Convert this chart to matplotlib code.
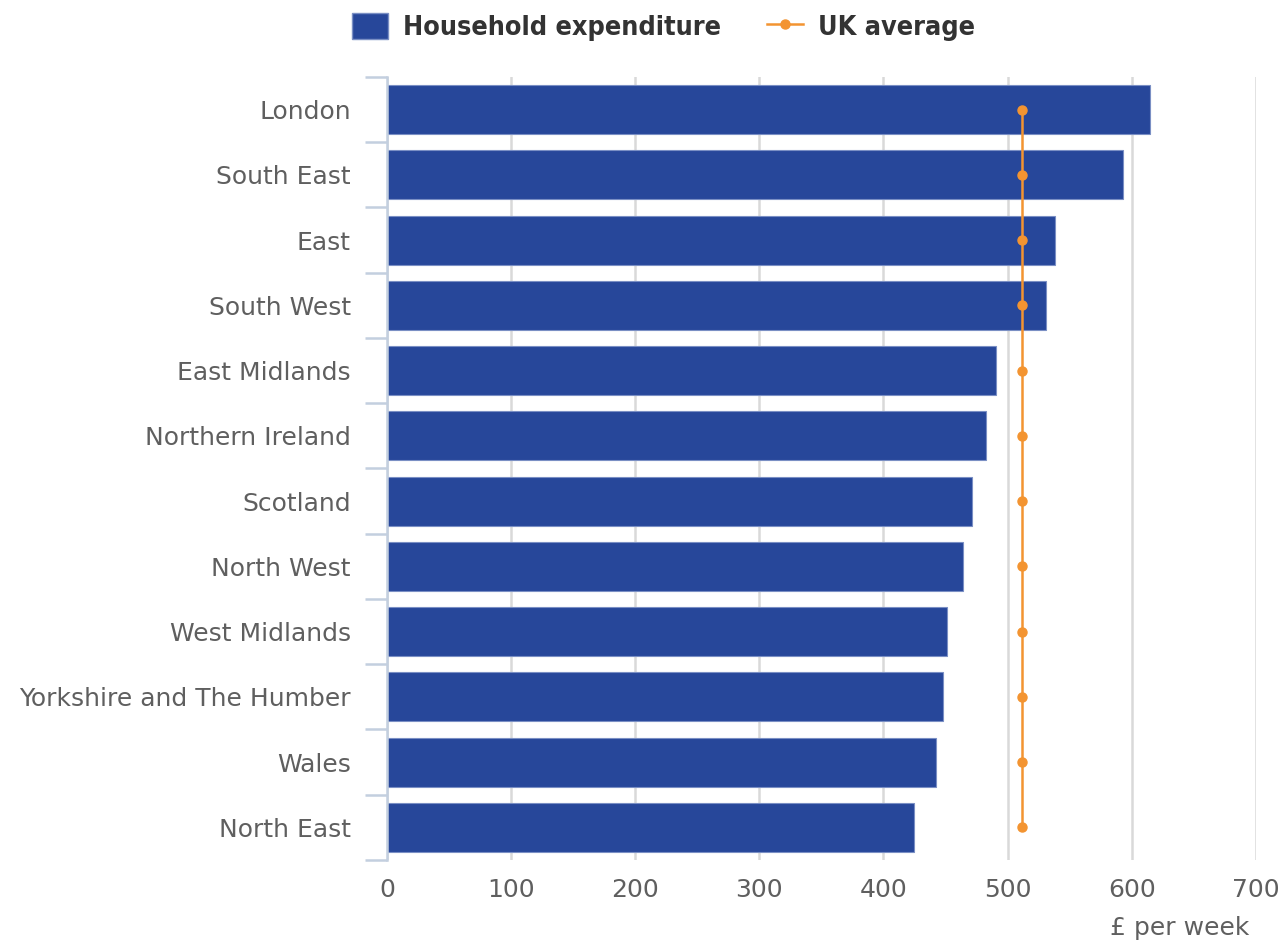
import numpy as np
import matplotlib.pyplot as plt
from matplotlib.lines import Line2D
from matplotlib.patches import Patch

regions = ["London", "South East", "East", "South West", "East Midlands",
           "Northern Ireland", "Scotland", "North West", "West Midlands",
           "Yorkshire and The Humber", "Wales", "North East"]
spend = [615, 593, 538, 531, 491, 483, 471, 464, 451, 448, 442, 424.5]
uk_avg = 511.5

bar_col = "#27479a"
avg_col = "#f39431"
txt_col = "#5f5f5f"

fig = plt.figure(figsize=(12.88, 9.49), dpi=100)
ax = fig.add_axes([0.3005, 0.0938, 0.6745, 0.8251])

y = np.arange(len(regions))
ax.barh(y, spend, height=0.75, color=bar_col, edgecolor="#7a8fc4",
        linewidth=0.8, zorder=2)
ax.plot([uk_avg] * len(regions), y, color=avg_col, lw=1.8, marker="o",
        ms=6.5, zorder=3)

ax.set_xlim(0, 700)
ax.set_ylim(len(regions) - 0.5, -0.5)
ax.set_xticks(np.arange(0, 701, 100))
ax.set_yticks(y)
ax.set_yticklabels(regions)

# vertical grid, drawn under the bars
ax.grid(axis="x", color="#d9d9d9", lw=1.8, zorder=0)
ax.set_axisbelow(True)
for s in ["top", "right", "bottom"]:
    ax.spines[s].set_visible(False)
ax.spines["left"].set_color("#c3cfdf")
ax.spines["left"].set_linewidth(1.8)

# category boundary ticks on the y axis
ax.set_yticks(np.arange(-0.5, len(regions), 1), minor=True)
ax.tick_params(axis="y", which="minor", length=16, width=1.8, color="#c3cfdf")
ax.tick_params(axis="y", which="major", length=0, pad=26, labelsize=18,
               labelcolor=txt_col)
ax.tick_params(axis="x", length=0, pad=13, labelsize=18, labelcolor=txt_col)

ax.set_xlabel("£ per week", fontsize=18, color=txt_col, loc="right")
ax.xaxis.set_label_coords(0.993, -0.072)

handles = [Patch(facecolor=bar_col, edgecolor="#7a8fc4"),
           Line2D([0], [0], color=avg_col, lw=1.8, marker="o", ms=6.5)]
leg = fig.legend(handles, ["Household expenditure", "UK average"],
                 loc="upper center", bbox_to_anchor=(0.515, 1.012), ncol=2,
                 frameon=False, handlelength=1.35, handleheight=1.1,
                 handletextpad=0.55, columnspacing=1.7,
                 prop={"family": "DejaVu Sans", "weight": "bold",
                       "stretch": "condensed", "size": 19.4})
for t in leg.get_texts():
    t.set_color("#333333")

fig.savefig("out.png", dpi=100)
